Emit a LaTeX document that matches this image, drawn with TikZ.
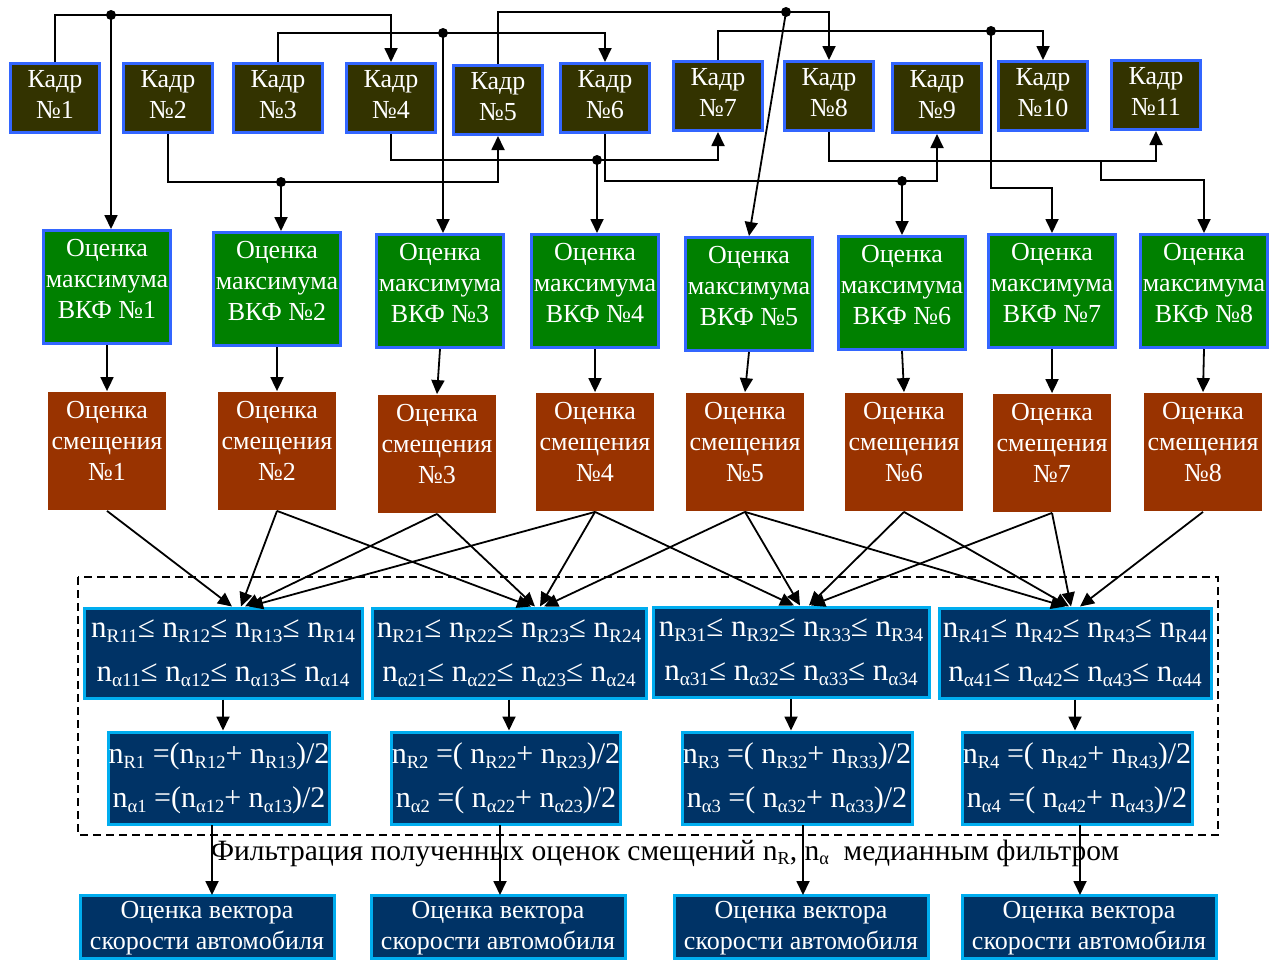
\documentclass[tikz,border=0pt]{standalone}
\usepackage{fontspec}
\setmainfont{Liberation Serif}
\usetikzlibrary{arrows.meta}
\definecolor{kadrbg}{RGB}{51,51,0}
\definecolor{kadrln}{RGB}{51,102,255}
\definecolor{vkfbg}{RGB}{0,128,0}
\definecolor{smbg}{RGB}{153,51,0}
\definecolor{nbg}{RGB}{0,51,102}
\makeatletter
\newcommand\nv[1]{n\raisebox{-.35ex}{\fontsize{\strip@pt\dimexpr.62\dimexpr\f@size pt\relax\relax}{1}\selectfont#1}}
\makeatother

\begin{document}
\begin{tikzpicture}[x=1pt,y=-1pt,>={Triangle[length=14pt,width=13pt]},line width=1.8pt,
  box/.style={text=white,inner sep=0pt,align=center,font=\fontsize{26}{31}\selectfont},
  kadr/.style={box,draw=kadrln,line width=3pt,fill=kadrbg,minimum width=89pt,minimum height=69pt,text height=45pt,text depth=4pt},
  vkf/.style={box,draw=kadrln,line width=3pt,fill=vkfbg,minimum width=127pt,minimum height=113pt,text height=67pt,text depth=4pt},
  smesh/.style={box,fill=smbg,minimum width=118pt,minimum height=118pt,text height=63pt,text depth=4pt},
  nbox/.style={box,draw=cyan,line width=3pt,fill=nbg,font=\fontsize{31}{44}\selectfont},
  vec/.style={nbox,font=\fontsize{26}{31}\selectfont,minimum width=254pt,minimum height=63pt,text height=48pt,text depth=4pt},
  dot/.style={circle,fill,inner sep=0pt,minimum size=10pt}]
\useasboundingbox (0,0) rectangle (1284,961);

\foreach \i/\x/\y in {1/55/98,2/168/98,3/278/98,4/391/98,5/498/100,6/605/98,7/718/96,8/829/96,9/937/98,10/1043/96,11/1156/95}
  \node[kadr] (k\i) at (\x,\y) {Кадр\\№\i};
\foreach \i/\x/\y in {1/107/287,2/277/289,3/440/291,4/595/291,5/749/294,6/902/293,7/1052/291,8/1204/291}
  \node[vkf] (v\i) at (\x,\y) {Оценка\\максимума\\ВКФ №\i};
\foreach \i/\x/\y in {1/107/451,2/277/451,3/437/454,4/595/452,5/745/452,6/904/452,7/1052/453,8/1203/452}
  \node[smesh] (s\i) at (\x,\y) {Оценка\\смещения\\№\i};

\node[nbox,minimum width=278pt,minimum height=90pt] (p1) at (223,653) {\nv{R11}≤ \nv{R12}≤ \nv{R13}≤ \nv{R14}\\\nv{α11}≤ \nv{α12}≤ \nv{α13}≤ \nv{α14}};
\node[nbox,minimum width=274pt,minimum height=90pt] (p2) at (509,653) {\nv{R21}≤ \nv{R22}≤ \nv{R23}≤ \nv{R24}\\\nv{α21}≤ \nv{α22}≤ \nv{α23}≤ \nv{α24}};
\node[nbox,minimum width=276pt,minimum height=90pt] (p3) at (791,652) {\nv{R31}≤ \nv{R32}≤ \nv{R33}≤ \nv{R34}\\\nv{α31}≤ \nv{α32}≤ \nv{α33}≤ \nv{α34}};
\node[nbox,minimum width=272pt,minimum height=90pt] (p4) at (1075,653) {\nv{R41}≤ \nv{R42}≤ \nv{R43}≤ \nv{R44}\\\nv{α41}≤ \nv{α42}≤ \nv{α43}≤ \nv{α44}};

\node[nbox,font=\fontsize{30}{44}\selectfont,minimum width=219pt,minimum height=92pt] (m1) at (219,778) {\nv{R1} =(\nv{R12}+ \nv{R13})/2\\\nv{α1} =(\nv{α12}+ \nv{α13})/2};
\node[nbox,font=\fontsize{30}{44}\selectfont,minimum width=227pt,minimum height=92pt] (m2) at (506,778) {\nv{R2} =( \nv{R22}+ \nv{R23})/2\\\nv{α2} =( \nv{α22}+ \nv{α23})/2};
\node[nbox,font=\fontsize{30}{44}\selectfont,minimum width=230pt,minimum height=92pt] (m3) at (797,778) {\nv{R3} =( \nv{R32}+ \nv{R33})/2\\\nv{α3} =( \nv{α32}+ \nv{α33})/2};
\node[nbox,font=\fontsize{30}{44}\selectfont,minimum width=230pt,minimum height=92pt] (m4) at (1077,778) {\nv{R4} =( \nv{R42}+ \nv{R43})/2\\\nv{α4} =( \nv{α42}+ \nv{α43})/2};

\foreach \i/\x in {1/207,2/498,3/801,4/1089}
  \node[vec] (o\i) at (\x,927) {Оценка вектора\\скорости автомобиля};

\draw[dashed,dash pattern=on 8pt off 5pt] (78,577) rectangle (1218,835);
\node[font=\fontsize{29.5}{31}\selectfont] (filt) at (665,853) {Фильтрация полученных оценок смещений \nv{R}, \nv{α}\ \ медианным фильтром};

\coordinate (jA) at (111,15);
\coordinate (jB) at (443,33);
\coordinate (jC) at (786,12);
\coordinate (jD) at (991,31);
\coordinate (jE) at (281,182);
\coordinate (jF) at (597,160);
\coordinate (jG) at (902,181);
\coordinate (jH) at (1101,161);

\draw[->] (k1.north) |- (jA) -| (k4.north);
\draw[->] (k3.north) |- (jB) -| (k6.north);
\draw[->] (k5.north) |- (jC) -| (k8.north);
\draw[->] (k7.north) |- (jD) -| (k10.north);
\draw[->] (k2.south) |- (jE) -| (k5.south);
\draw[->] (k4.south) |- (jF) -| (k7.south);
\draw[->] (k6.south) |- (jG) -| (k9.south);
\draw[->] (k8.south) |- (jH) -| (k11.south);
\foreach \j in {A,B,C,D,E,F,G} \node[dot] at (j\j) {};

\draw[->] (jA) -- (jA |- v1.north);
\draw[->] (jB) -- (jB |- v3.north);
\draw[->] (jC) -- (v5.north);
\draw[->] (jD) -- ++(0,157) -| (v7.north);
\draw[->] (jE) -- (jE |- v2.north);
\draw[->] (jF) -- (jF |- v4.north);
\draw[->] (jG) -- (jG |- v6.north);
\draw[->] (jH) -- ++(0,19) -| (v8.north);

\foreach \i in {1,...,8} \draw[->] (v\i.south) -- (s\i.north);

\foreach \a/\b/\d in {1/1/9,2/1/18,3/1/22,4/1/26,2/2/22,3/2/26,4/2/31,5/2/35,
  4/3/3,5/3/9,6/3/18,7/3/20,5/4/-10,6/4/-6,7/4/-4,8/4/5}
  \draw[->] (s\a.south) -- ([xshift=\d pt]p\b.north);

\foreach \i in {1,...,4} \draw[->] (p\i.south) -- (p\i.south |- m\i.north);
\draw[->] (212,825) -- (212,895);
\foreach \i/\x in {2/500,3/803,4/1080} \draw[->] (\x,825) -- (\x,895);

\end{tikzpicture}
\end{document}
